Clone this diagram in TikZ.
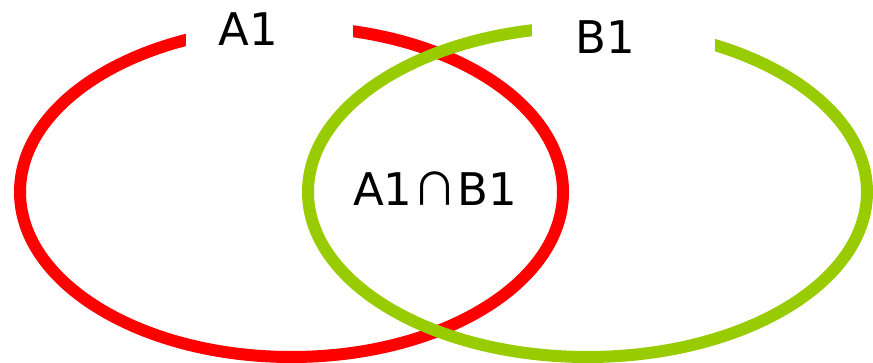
\documentclass[tikz,border=0pt]{standalone}
\usepackage{fontspec}
\setmainfont{DejaVu Sans}
\newfontfamily\cjk{Noto Sans CJK JP}
\usetikzlibrary{shapes.geometric}
\definecolor{setred}{HTML}{FF0000}
\definecolor{setgreen}{HTML}{99CC00}
\begin{document}
\begin{tikzpicture}[x=1pt,y=-1pt,
  setring/.style={ellipse, draw, line width=12pt, inner sep=0pt, minimum height=330pt},
  gapbox/.style={fill=white, draw=none, inner sep=0pt, minimum height=60pt},
  lbl/.style={inner sep=0pt, font=\fontsize{45}{45}\selectfont}]
\useasboundingbox (0,0) rectangle (873,363);
\node[setring, draw=setred, minimum width=543pt] (A) at (291.5,192) {};
\node[setring, draw=setgreen, minimum width=559pt] (B) at (587.5,192) {};
\node[gapbox, minimum width=167pt] (gA) at (269.5,25) {};
\node[gapbox, minimum width=183pt] (gB) at (623.5,25) {};
\node[lbl] (la) at (248.5,29.5) {A1};
\node[lbl] (lb) at (605,37) {B1};
\node[lbl] (lab) at (435,188.5) {A1{\cjk\fontsize{45}{45}\selectfont ∩}B1};
\end{tikzpicture}
\end{document}
